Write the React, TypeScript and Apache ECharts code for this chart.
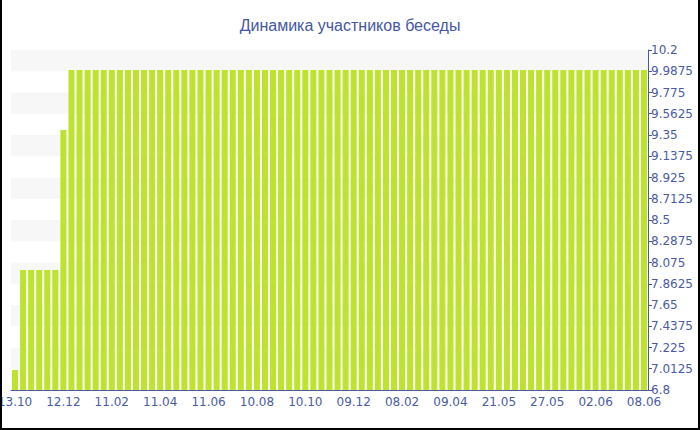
import React, { useEffect, useRef } from "react";
import * as echarts from "echarts";

const titleText = "Динамика участников беседы";

const categories = [
  "13.10", "23.10", "02.11", "12.11", "22.11", "02.12",
  "12.12", "22.12", "01.01", "11.01", "21.01", "31.01",
  "11.02", "21.02", "03.03", "13.03", "23.03", "02.04",
  "11.04", "21.04", "01.05", "11.05", "21.05", "31.05",
  "11.06", "21.06", "01.07", "11.07", "21.07", "31.07",
  "10.08", "20.08", "30.08", "09.09", "19.09", "29.09",
  "10.10", "20.10", "30.10", "09.11", "19.11", "29.11",
  "09.12", "19.12", "29.12", "08.01", "18.01", "28.01",
  "08.02", "18.02", "28.02", "10.03", "20.03", "30.03",
  "09.04", "16.04", "23.04", "30.04", "07.05", "14.05",
  "21.05", "22.05", "23.05", "24.05", "25.05", "26.05",
  "27.05", "28.05", "29.05", "30.05", "31.05", "01.06",
  "02.06", "03.06", "04.06", "05.06", "06.06", "07.06",
  "08.06",
];

const participants = [
  7, 8, 8, 8, 8, 8,
  9.4, 10, 10, 10, 10, 10,
  10, 10, 10, 10, 10, 10,
  10, 10, 10, 10, 10, 10,
  10, 10, 10, 10, 10, 10,
  10, 10, 10, 10, 10, 10,
  10, 10, 10, 10, 10, 10,
  10, 10, 10, 10, 10, 10,
  10, 10, 10, 10, 10, 10,
  10, 10, 10, 10, 10, 10,
  10, 10, 10, 10, 10, 10,
  10, 10, 10, 10, 10, 10,
  10, 10, 10, 10, 10, 10,
  10,
];

const yMin = 6.8;
const yMax = 10.2;
const yInterval = 0.2125;

export default function App() {
  const ref = useRef<HTMLDivElement>(null);
  useEffect(() => {
    document.body.style.margin = "0";
    if (!ref.current) return;
    const chart = echarts.init(ref.current, undefined, { renderer: "svg" });
    const axisColor = "#4a5a9c";
    const labelColor = "#4a5ba3";
    chart.setOption({
      animation: false,
      backgroundColor: "#ffffff",
      title: {
        text: titleText,
        left: "center",
        top: 12,
        textStyle: {
          fontFamily: "Liberation Sans",
          fontSize: 16,
          fontWeight: "normal",
          color: "#4557a3",
        },
      },
      grid: { left: 9, right: 50, top: 50, bottom: 38, containLabel: false, outerBoundsMode: "none" },
      xAxis: {
        type: "category",
        data: categories,
        boundaryGap: true,
        axisLine: { lineStyle: { color: axisColor, width: 1 } },
        axisTick: { alignWithLabel: true, interval: 5, length: 4, lineStyle: { color: axisColor } },
        axisLabel: {
          interval: 5,
          color: labelColor,
          fontFamily: "DejaVu Sans",
          fontSize: 12,
          margin: 6,
        },
        splitLine: { show: false },
      },
      yAxis: {
        type: "value",
        position: "right",
        min: yMin,
        max: yMax,
        interval: yInterval,
        axisLine: { show: true, lineStyle: { color: axisColor, width: 1 } },
        axisTick: { show: true, length: 4, lineStyle: { color: axisColor } },
        axisLabel: {
          color: labelColor,
          fontFamily: "DejaVu Sans",
          fontSize: 12,
          margin: 3,
          formatter: (v: number) => String(Math.round(v * 10000) / 10000),
        },
        splitLine: { show: false },
        splitArea: { show: true, areaStyle: { color: ["#ffffff", "#f7f7f7"] } },
      },
      series: [
        {
          type: "bar",
          data: participants,
          barCategoryGap: "25%",
          itemStyle: { color: "#bee32e" },
        },
      ],
    });
    return () => chart.dispose();
  }, []);
  return (
    <div
      style={{
        position: "absolute",
        left: 0,
        top: 0,
        width: 700,
        height: 430,
        boxSizing: "border-box",
        borderLeft: "2px solid #000",
        borderRight: "2px solid #000",
        borderBottom: "2px solid #000",
        background: "#fff",
      }}
    >
      <div ref={ref} style={{ width: 696, height: 428 }} />
    </div>
  );
}
